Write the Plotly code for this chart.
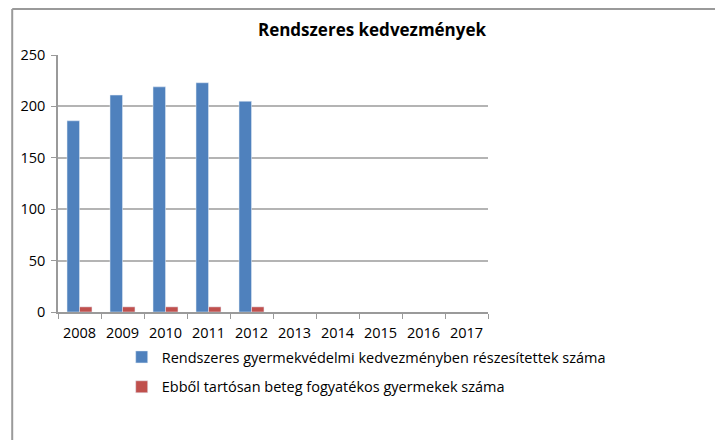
import plotly.graph_objects as go

years = ["2008", "2009", "2010", "2011", "2012", "2013", "2014", "2015", "2016", "2017"]
rendszeres = [186, 211, 219, 223, 205, None, None, None, None, None]
beteg = [5, 5, 5, 5, 5, None, None, None, None, None]

name_a = "Rendszeres gyermekvédelmi kedvezményben részesítettek száma"
name_b = "Ebből tartósan beteg fogyatékos gyermekek száma"

FONT = "Open Sans, DejaVu Sans, sans-serif"

# the page body has an 8px margin, so figure coords = page coords - 8
FW, FH = 707, 432
L, T, W, H = 48, 47, 432, 257


def px_x(p):
    return (p - L) / W


def px_y(p):
    return (T + H - p) / H


fig = go.Figure()
fig.add_trace(go.Bar(x=years, y=rendszeres, name=name_a, marker_color="#4F81BD", legendgroup="a"))
fig.add_trace(go.Bar(x=years, y=beteg, name=name_b, marker_color="#C0504D", legendgroup="b"))

# outer chart frame (only top and left edges show)
fig.add_shape(type="line", xref="paper", yref="paper",
              x0=px_x(2), x1=px_x(FW + 10), y0=px_y(1), y1=px_y(1),
              line=dict(color="#9a9a9a", width=2))
fig.add_shape(type="line", xref="paper", yref="paper",
              x0=px_x(2), x1=px_x(2), y0=px_y(1), y1=px_y(FH + 10),
              line=dict(color="#9a9a9a", width=2))

fig.update_layout(
    width=FW, height=FH,
    margin=dict(l=L, r=FW - L - W, t=T, b=FH - T - H),
    paper_bgcolor="white", plot_bgcolor="white",
    font=dict(family=FONT, size=13, color="black"),
    title=dict(text="<b>Rendszeres kedvezmények</b>", x=364 / FW, xanchor="center",
               y=1 - 22 / FH, yanchor="middle", font=dict(size=17, family=FONT)),
    barmode="group", bargap=0.42, bargroupgap=0,
    showlegend=True,
    legend=dict(orientation="v", x=px_x(112), xanchor="left", y=px_y(333), yanchor="top",
                font=dict(size=14.5, family=FONT), tracegroupgap=8, itemwidth=30),
    xaxis=dict(type="category", showline=True, linecolor="#9a9a9a", linewidth=1.5,
               ticks="outside", tickson="boundaries", ticklen=5, tickcolor="#9a9a9a",
               showgrid=False, tickfont=dict(size=14.5), tickangle=0, ticklabelstandoff=7),
    yaxis=dict(range=[0, 250], dtick=50, showline=True, linecolor="#9a9a9a", linewidth=1.5,
               ticks="outside", ticklen=5, tickcolor="#9a9a9a",
               showgrid=True, gridcolor="#b4b4b4", gridwidth=1.5, zeroline=False,
               tickfont=dict(size=14.5), ticklabelstandoff=3),
)

fig.write_html("out.html")
